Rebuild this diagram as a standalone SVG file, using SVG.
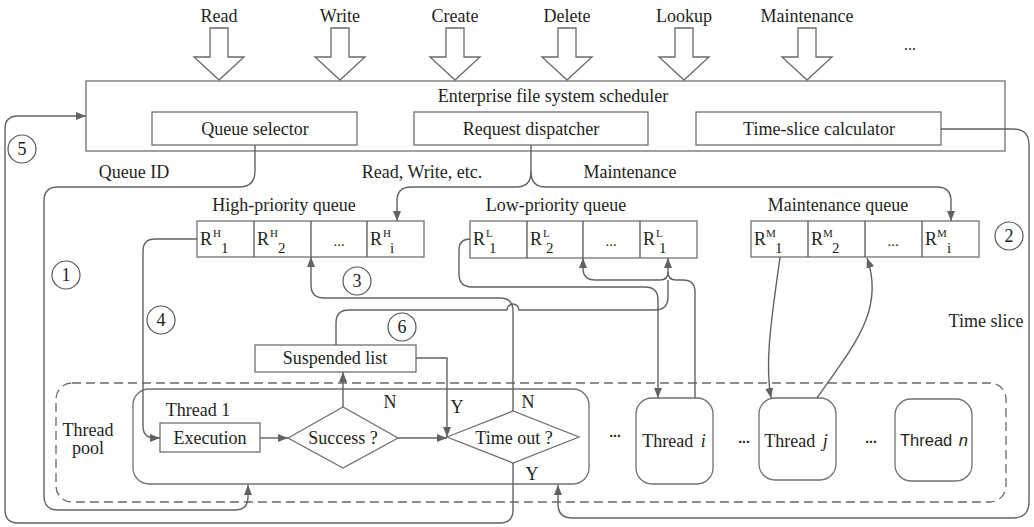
<svg xmlns="http://www.w3.org/2000/svg" width="1034" height="527" viewBox="0 0 1034 527">
  <defs>
    <style>
      text { font-family: "Liberation Serif", "Times New Roman", serif; font-size: 18px; fill: #231f20; }
      .c { text-anchor: middle; }
      .box { fill: #fff; stroke: #707070; stroke-width: 1.3; }
      .ln { fill: none; stroke: #626262; stroke-width: 1.4; }
      .ar { marker-end: url(#ah); }
      .big { fill: #fff; stroke: #6a6a6a; stroke-width: 1.3; }
      .pool { fill: none; stroke: #6a6a6a; stroke-width: 1.3; stroke-dasharray: 9 5; }
      .num { fill: #fff; stroke: #555; stroke-width: 1.2; }
      .sup { font-size: 11px; }
      .sub { font-size: 15px; }
      .dots { font-family: "Liberation Sans", Arial, sans-serif; font-size: 14px; font-weight: bold; text-anchor: middle; }
      .sans { font-family: "Liberation Sans", Arial, sans-serif; font-size: 16.5px; }
    </style>
    <marker id="ah" viewBox="0 0 10 8" refX="10" refY="4" markerWidth="10" markerHeight="8" orient="auto" markerUnits="userSpaceOnUse">
      <path d="M0,0 L10,4 L0,8 z" fill="#626262"/>
    </marker>
  </defs>

  <rect width="1034" height="527" fill="#fff"/>

  <!-- incoming request types -->
  <g id="inputs">
    <polygon class="big" points="210,28 228,28 228,57 244,57 219,80 194,57 210,57"/>
    <polygon class="big" points="331,28 349,28 349,57 365,57 340,80 315,57 331,57"/>
    <polygon class="big" points="446,28 464,28 464,57 480,57 455,80 430,57 446,57"/>
    <polygon class="big" points="558,28 576,28 576,57 592,57 567,80 542,57 558,57"/>
    <polygon class="big" points="675,28 693,28 693,57 709,57 684,80 659,57 675,57"/>
    <polygon class="big" points="798,28 816,28 816,57 832,57 807,80 782,57 798,57"/>
    <text class="c" x="219" y="22">Read</text>
    <text class="c" x="340" y="22">Write</text>
    <text class="c" x="455" y="22">Create</text>
    <text class="c" x="567" y="22">Delete</text>
    <text class="c" x="684" y="22">Lookup</text>
    <text class="c" x="807" y="22">Maintenance</text>
    <text class="c" x="910" y="50" style="font-size:16px">...</text>
  </g>

  <!-- scheduler and its components -->
  <g id="scheduler">
    <rect class="box" x="86" y="81" width="919" height="70"/>
    <text class="c" x="553" y="102">Enterprise file system scheduler</text>
  </g>
  <g id="queue-selector">
    <rect class="box" x="152" y="112" width="205" height="33"/>
    <text class="c" x="255" y="135">Queue selector</text>
  </g>
  <g id="request-dispatcher">
    <rect class="box" x="414" y="112" width="234" height="33"/>
    <text class="c" x="531" y="135">Request dispatcher</text>
  </g>
  <g id="time-slice-calculator">
    <rect class="box" x="696" y="112" width="245" height="33"/>
    <text class="c" x="819" y="135">Time-slice calculator</text>
  </g>

  <!-- queues -->
  <g id="high-priority-queue">
    <text class="c" x="284" y="211">High-priority queue</text>
    <rect class="box" x="197" y="221" width="227" height="36"/>
    <path class="ln" d="M254,221 V257 M311,221 V257 M367,221 V257"/>
    <text x="200" y="245">R<tspan class="sup" x="213" y="237">H</tspan><tspan class="sub" x="221" y="253">1</tspan></text>
    <text x="257" y="245">R<tspan class="sup" x="270" y="237">H</tspan><tspan class="sub" x="278" y="253">2</tspan></text>
    <text class="c" x="339" y="246" style="font-size:15px">...</text>
    <text x="370" y="245">R<tspan class="sup" x="383" y="237">H</tspan><tspan class="sub" x="390" y="253">i</tspan></text>
  </g>
  <g id="low-priority-queue">
    <text class="c" x="556" y="211">Low-priority queue</text>
    <rect class="box" x="470" y="221" width="227" height="37"/>
    <path class="ln" d="M527,221 V258 M583,221 V258 M640,221 V258"/>
    <text x="473" y="245">R<tspan class="sup" x="486" y="237">L</tspan><tspan class="sub" x="489" y="253">1</tspan></text>
    <text x="530" y="245">R<tspan class="sup" x="543" y="237">L</tspan><tspan class="sub" x="546" y="253">2</tspan></text>
    <text class="c" x="611" y="246" style="font-size:15px">...</text>
    <text x="643" y="245">R<tspan class="sup" x="656" y="237">L</tspan><tspan class="sub" x="659" y="253">1</tspan></text>
  </g>
  <g id="maintenance-queue">
    <text class="c" x="838" y="211">Maintenance queue</text>
    <rect class="box" x="751" y="221" width="228" height="36"/>
    <path class="ln" d="M808,221 V257 M865,221 V257 M922,221 V257"/>
    <text x="754" y="245">R<tspan class="sup" x="766" y="237">M</tspan><tspan class="sub" x="775" y="253">1</tspan></text>
    <text x="811" y="245">R<tspan class="sup" x="823" y="237">M</tspan><tspan class="sub" x="832" y="253">2</tspan></text>
    <text class="c" x="893" y="246" style="font-size:15px">...</text>
    <text x="925" y="245">R<tspan class="sup" x="937" y="237">M</tspan><tspan class="sub" x="947" y="253">i</tspan></text>
  </g>

  <!-- thread pool -->
  <g id="thread-pool">
    <rect class="pool" x="56" y="383" width="950" height="119" rx="16"/>
    <text class="c" x="88" y="436">Thread</text>
    <text class="c" x="88" y="454">pool</text>
  </g>
  <g id="thread-1">
    <rect class="box" x="133" y="389" width="456" height="95" rx="16"/>
    <text class="c" x="198" y="416">Thread 1</text>
  </g>
  <g id="execution">
    <rect class="box" x="160" y="423" width="100" height="29"/>
    <text class="c" x="210" y="444">Execution</text>
  </g>
  <g id="success">
    <polygon class="box" points="288,438 343,407 398,438 343,468"/>
    <text class="c" x="343" y="444">Success ?</text>
  </g>
  <g id="time-out">
    <polygon class="box" points="447,437 513,411 579,437 513,463"/>
    <text class="c" x="514" y="444">Time out ?</text>
  </g>
  <g id="suspended-list">
    <rect class="box" x="255" y="345" width="161" height="27"/>
    <text class="c" x="335" y="364">Suspended list</text>
  </g>
  <g id="thread-i">
    <rect class="box" x="636" y="398" width="77" height="86" rx="16"/>
    <text class="c" x="674" y="447">Thread <tspan font-style="italic" dx="3">i</tspan></text>
  </g>
  <g id="thread-j">
    <rect class="box" x="759" y="398" width="77" height="82" rx="16"/>
    <text class="c" x="796" y="447">Thread <tspan font-style="italic" dx="3">j</tspan></text>
  </g>
  <g id="thread-n">
    <rect class="box" x="895" y="399" width="77" height="82" rx="16"/>
    <text class="sans c" x="934" y="446">Thread <tspan font-style="italic" dx="2">n</tspan></text>
  </g>
  <g id="ellipses">
    <text class="dots" x="615" y="437">...</text>
    <text class="dots" x="744" y="443">...</text>
    <text class="dots" x="871" y="443">...</text>
  </g>

  <!-- connectors -->
  <g id="connectors">
    <!-- 5: timed-out requests return to the scheduler -->
    <path class="ln ar" d="M513,463 V510 Q513,523 500,523 H18 Q5,523 5,510 V129 Q5,116 18,116 H86"/>
    <!-- 1: queue ID to thread pool -->
    <path class="ln ar" d="M255,145 V171 Q255,187 239,187 H58 Q44,187 44,201 V496 Q44,510 58,510 H235 Q248,510 248,497 V485"/>
    <!-- 2: time slice -->
    <path class="ln ar" d="M941,129 H1013 Q1029,129 1029,145 V502 Q1029,518 1013,518 H572 Q558,518 558,504 V485"/>
    <!-- dispatcher branches -->
    <path class="ln ar" d="M531,145 V172 Q531,187 516,187 H411 Q397,187 397,201 V221"/>
    <path class="ln ar" d="M531,172 Q531,187 546,187 H937 Q951,187 951,201 V221"/>
    <!-- 4: high-priority head to execution -->
    <path class="ln ar" d="M197,239 H155 Q143,239 143,251 V426 Q143,438 155,438 H160"/>
    <!-- flow inside thread 1 -->
    <path class="ln ar" d="M260,438 H288"/>
    <path class="ln ar" d="M398,438 H447"/>
    <path class="ln ar" d="M343,407 V372"/>
    <path class="ln ar" d="M416,358 H447 V437"/>
    <!-- 3: not timed out, back to high-priority queue -->
    <path class="ln ar" d="M513,411 V311 Q513,298 500,298 H324 Q311,298 311,285 V257"/>
    <!-- 6: suspended list back to low-priority queue -->
    <path class="ln" d="M336,345 V323 Q336,310 349,310 H507 A6,6 0 0 1 519,310 H655 Q668,310 668,297 V280"/>
    <!-- low-priority queue and thread i -->
    <path class="ln ar" d="M470,239 Q459,239 459,250 V274 Q459,287 472,287 H645 Q658,287 658,300 V398"/>
    <path class="ln ar" d="M695,398 V292 Q695,280 683,280 H676 Q668,280 668,272 V258"/>
    <path class="ln ar" d="M668,272 Q668,280 660,280 H595 Q583,280 583,268 V258"/>
    <!-- maintenance queue and thread j -->
    <path class="ln ar" d="M780,257 C773,310 764,360 771,398"/>
    <path class="ln ar" d="M817,398 C850,350 886,312 867,258"/>
  </g>

  <!-- connector labels and step numbers -->
  <g id="labels">
    <text class="c" x="134" y="178">Queue ID</text>
    <text class="c" x="422" y="178">Read, Write, etc.</text>
    <text class="c" x="630" y="178">Maintenance</text>
    <text class="c" x="986" y="327">Time slice</text>
    <text class="c" x="390" y="408">N</text>
    <text class="c" x="457" y="413">Y</text>
    <text class="c" x="528" y="408">N</text>
    <text class="c" x="532" y="480">Y</text>
  </g>
  <g id="steps">
    <circle class="num" cx="66" cy="275" r="14"/><text class="c" x="66" y="281">1</text>
    <circle class="num" cx="1009" cy="236" r="14"/><text class="c" x="1009" y="242">2</text>
    <circle class="num" cx="357" cy="281" r="14"/><text class="c" x="357" y="287">3</text>
    <circle class="num" cx="161" cy="320" r="14"/><text class="c" x="161" y="326">4</text>
    <circle class="num" cx="22" cy="149" r="14"/><text class="c" x="22" y="155">5</text>
    <circle class="num" cx="402" cy="327" r="14"/><text class="c" x="402" y="333">6</text>
  </g>
</svg>
